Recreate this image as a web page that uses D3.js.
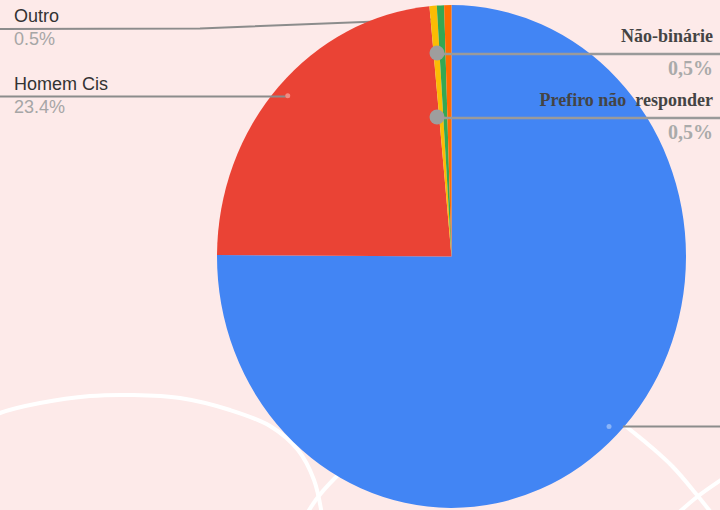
<!DOCTYPE html>
<html>
<head>
<meta charset="utf-8">
<script src="https://cdn.jsdelivr.net/npm/d3@7"></script>
<style>
  html, body { margin: 0; padding: 0; background: #fdeae9; }
  svg { display: block; }
</style>
</head>
<body>
<svg width="720" height="510"></svg>
<script>
  // data (percent of answers)
  var categories = ["Mulher Cis", "Homem Cis", "Outro", "Não-binárie", "Prefiro não responder"];
  var values = [75.1, 23.4, 0.5, 0.5, 0.5];
  var valueLabels = ["75.1%", "23.4%", "0.5%", "0,5%", "0,5%"];
  var sliceColors = ["#4285f4", "#ea4335", "#fbbc04", "#34a853", "#ff6d01"];

  var svg = d3.select("svg"),
      width = +svg.attr("width"),
      height = +svg.attr("height");

  var cx = 451.5, cy = 256.5, radius = 234.5, squash = 1.072;

  svg.append("rect").attr("width", width).attr("height", height).attr("fill", "#fdeae9");

  // decorative white rings in the background
  var ring = d3.line().curve(d3.curveCatmullRom);
  var rings = [
    [[-10, 418], [0, 413], [40, 403], [90, 396], [133, 395], [180, 398], [230, 410], [270, 426], [298, 450], [314, 480], [322, 515]],
    [[306, 515], [318, 497], [335, 478], [360, 455]],
    [[600, 405], [628, 428], [650, 446], [673, 467], [697, 495], [713, 515]],
    [[676, 515], [697, 497], [724, 478]]
  ];
  svg.selectAll(".ring").data(rings).enter().append("path")
      .attr("class", "ring")
      .attr("d", ring)
      .attr("fill", "none")
      .attr("stroke", "#ffffff")
      .attr("stroke-width", 4);

  var pie = d3.pie().sort(null).value(function(d) { return d; });
  var arcs = pie(values);
  var path = d3.arc().innerRadius(0).outerRadius(radius);

  function pointAt(a, r) {
    var ang = (a.startAngle + a.endAngle) / 2;
    return [cx + Math.sin(ang) * r, cy - Math.cos(ang) * r * squash];
  }

  // leader line of "Outro" passes under the pie
  var outroEnd = pointAt(arcs[2], radius * 0.947);
  svg.append("path")
      .attr("d", d3.line()([[0, 29], [200, 28.5], outroEnd]))
      .attr("fill", "none").attr("stroke", "#8c8c8c").attr("stroke-width", 2);

  var g = svg.append("g").attr("transform", "translate(" + cx + "," + cy + ") scale(1," + squash + ")");
  g.selectAll(".arc").data(arcs).enter().append("path")
      .attr("class", "arc")
      .attr("d", path)
      .attr("fill", function(d, i) { return sliceColors[i]; });

  // Homem Cis leader
  var hp = pointAt(arcs[1], radius * 0.947);
  svg.append("line").attr("x1", 0).attr("x2", hp[0] - 2).attr("y1", 96.5).attr("y2", 96.5)
      .attr("stroke", "#8c8c8c").attr("stroke-width", 2);
  svg.append("circle").attr("cx", hp[0]).attr("cy", hp[1]).attr("r", 2.5).attr("fill", "#f28b82");

  // Mulher Cis leader (label falls outside the picture)
  var mp = pointAt(arcs[0], radius * 0.953);
  svg.append("line").attr("x1", mp[0] + 14).attr("x2", width).attr("y1", mp[1]).attr("y2", mp[1])
      .attr("stroke", "#8c8c8c").attr("stroke-width", 2);
  svg.append("circle").attr("cx", mp[0]).attr("cy", mp[1]).attr("r", 2.5).attr("fill", "#8ab4f8");

  // left labels
  var leftLabels = [
    { name: categories[2], value: valueLabels[2], y: 22 },
    { name: categories[1], value: valueLabels[1], y: 90 }
  ];
  leftLabels.forEach(function(l) {
    svg.append("text").attr("x", 14).attr("y", l.y)
        .attr("font-family", "Liberation Sans, Arial, sans-serif").attr("font-size", 18)
        .attr("fill", "#333333").text(l.name);
    svg.append("text").attr("x", 14).attr("y", l.y + 23)
        .attr("font-family", "Liberation Sans, Arial, sans-serif").attr("font-size", 18)
        .attr("fill", "#a6a6a6").text(l.value);
  });

  // hand-placed serif callouts on the right
  var callouts = [
    { name: categories[3], value: valueLabels[3], dot: [437, 53], y: 42 },
    { name: "Prefiro não  responder", value: valueLabels[4], dot: [437, 117], y: 106 }
  ];
  callouts.forEach(function(c) {
    svg.append("line").attr("x1", c.dot[0]).attr("x2", width).attr("y1", c.dot[1] + 1).attr("y2", c.dot[1] + 1)
        .attr("stroke", "#9a9a9a").attr("stroke-width", 2.5);
    svg.append("circle").attr("cx", c.dot[0]).attr("cy", c.dot[1]).attr("r", 7.5).attr("fill", "#9e9e9e");
    svg.append("text").attr("x", 713).attr("y", c.y).attr("text-anchor", "end")
        .attr("font-family", "Liberation Serif, Times New Roman, serif").attr("font-weight", "bold")
        .attr("font-size", 18).attr("fill", "#444444").style("white-space", "pre").text(c.name);
    svg.append("text").attr("x", 713).attr("y", c.y + 33).attr("text-anchor", "end")
        .attr("font-family", "Liberation Serif, Times New Roman, serif").attr("font-weight", "bold")
        .attr("font-size", 20).attr("fill", "#aaaaaa").text(c.value);
  });
</script>
</body>
</html>
